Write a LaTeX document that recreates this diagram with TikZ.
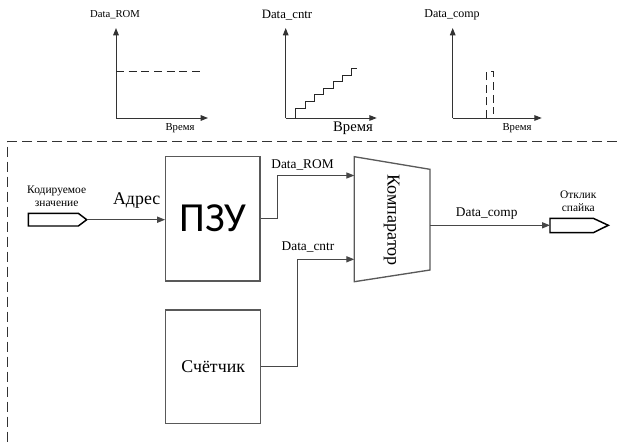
\documentclass[tikz,border=0pt]{standalone}
\usepackage{fontspec}
\setmainfont{Liberation Serif}
\newfontfamily\pzufont{Carlito}
\usetikzlibrary{arrows.meta,calc}
\begin{document}
\begin{tikzpicture}[x=0.75pt,y=-0.75pt,
  ln/.style={draw=black!72, line width=0.85pt},
  arr/.style={ln,-{Triangle[length=6pt,width=4.6pt]}},
  axis/.style={draw=black!80, line width=0.75pt,-{Triangle[length=5.5pt,width=4.2pt]}},
  blk/.style={draw=black!65, line width=1pt, inner sep=0pt, fill=white},
  sig/.style={draw=black, line width=1.1pt, fill=white},
  lbl/.style={inner sep=0.5pt, font=\fontsize{10}{12}\selectfont},
  small/.style={inner sep=0.5pt, font=\fontsize{8.6}{10}\selectfont},
  bigl/.style={inner sep=0.5pt, font=\fontsize{13.4}{15}\selectfont},
  frame/.style={draw=black!80, line width=0.75pt, dash pattern=on 7.5pt off 3.75pt},
  gdash/.style={draw=black!85, line width=0.8pt, dash pattern=on 6pt off 3.5pt},
]
\useasboundingbox (0,0) rectangle (617,443);

% ---------- timing graphs ----------
% graph 1
\coordinate (g1o) at (116,118);
\coordinate (g1y) at (116,28);
\coordinate (g1x) at (208,118);
\draw[axis] (g1o) -- (g1y);
\draw[axis] (g1o) -- (g1x);
\draw[gdash] (116,71.7) -- (201,71.7);
\node[inner sep=0.5pt, font=\fontsize{8}{9}\selectfont] (g1lab) at (115,15) {Data\_ROM};
\node[inner sep=0.5pt, font=\fontsize{8}{9}\selectfont] (g1t) at (180,128) {Время};

% graph 2
\coordinate (g2o) at (285.7,118);
\coordinate (g2y) at (285.7,28);
\coordinate (g2x) at (376.7,118);
\draw[axis] (g2o) -- (g2y);
\draw[axis] (g2o) -- (g2x);
\draw[draw=black!85, line width=0.75pt]
  (295.7,118) -- (295.7,108) -- (305,108) -- (305,101.4) -- (314.3,101.4) -- (314.3,94.8)
  -- (323.7,94.8) -- (323.7,88.2) -- (333,88.2) -- (333,81.6) -- (342.3,81.6) -- (342.3,75)
  -- (351.7,75) -- (351.7,68.4) -- (357,68.4);
\node[inner sep=0.5pt, font=\fontsize{9.6}{11}\selectfont] (g2lab) at (287,15) {Data\_cntr};
\node[inner sep=0.5pt, font=\fontsize{11}{12}\selectfont] (g2t) at (353,128) {Время};

% graph 3
\coordinate (g3o) at (452.7,118);
\coordinate (g3y) at (452.7,28);
\coordinate (g3x) at (541.7,118);
\draw[axis] (g3o) -- (g3y);
\draw[axis] (g3o) -- (g3x);
\draw[gdash] (486.7,118) -- (486.7,71.7) -- (493.3,71.7) -- (493.3,114);
\node[inner sep=0.5pt, font=\fontsize{9}{10}\selectfont] (g3lab) at (452,15) {Data\_comp};
\node[inner sep=0.5pt, font=\fontsize{8}{9}\selectfont] (g3t) at (517,128) {Время};

% ---------- dashed frame ----------
\coordinate (fr) at (7,141.7);
\draw[frame] (617,141.7) -- (fr) -- (7,443);

% ---------- blocks ----------
\node[blk, minimum width=70.7pt, minimum height=93.2pt] (pzu) at (212.9,218.9) {};
\node[font=\pzufont\fontsize{31}{32}\selectfont, inner sep=0pt] (pzut) at (213,218.5) {ПЗУ};
\node[blk, minimum width=71.25pt, minimum height=85pt, font=\fontsize{13.4}{15}\selectfont] (cnt) at (213.2,366.7) {Счётчик};

% comparator (trapezoid)
\coordinate (c1) at (354.3,156.7);
\coordinate (c2) at (430,169.3);
\coordinate (c3) at (430,270);
\coordinate (c4) at (354.3,281.7);
\draw[blk] (c1) -- (c2) -- (c3) -- (c4) -- cycle;
\node[rotate=-90, font=\fontsize{13.6}{15}\selectfont, inner sep=0pt] (cmp) at (391.7,220) {Компаратор};
\coordinate (cmpA) at (354.3,175.5);
\coordinate (cmpB) at (354.3,259.3);
\coordinate (cmpO) at (430,225.3);

% input signal
\coordinate (inTip) at (86.7,219.7);
\draw[sig] (28.3,213.3) -- (78.3,213.3) -- (inTip) -- (78.3,226) -- (28.3,226) -- cycle;
\node[small] (inl1) at (56.7,190.5) {Кодируемое};
\node[small] (inl2) at (56.7,203.8) {значение};

% output signal
\coordinate (outTail) at (550,225.3);
\draw[sig] (outTail) |- (593.3,218.3) -- (608.3,225.3) -- (593.3,232.7) -| (outTail);
\node[small] (outl1) at (578.3,194.8) {Отклик};
\node[small] (outl2) at (578.3,207.8) {спайка};

% ---------- connectors ----------
\draw[arr] (inTip) -- (inTip -| pzu.west);
\node[bigl] (adr) at (136.7,201) {Адрес};

\draw[ln] (pzu.east) -- ++(16.7,0) coordinate (k1);
\draw[arr] (k1) |- (cmpA);
\node[lbl] (dr) at (302.5,165) {Data\_ROM};

\draw[ln] (cnt.east) -- ++(36,0) coordinate (k2);
\draw[arr] (k2) |- (cmpB);
\node[lbl] (dc) at (308,246.5) {Data\_cntr};

\draw[arr] (cmpO) -- (outTail);
\node[lbl] (dp) at (486.7,213.3) {Data\_comp};
\end{tikzpicture}
\end{document}
